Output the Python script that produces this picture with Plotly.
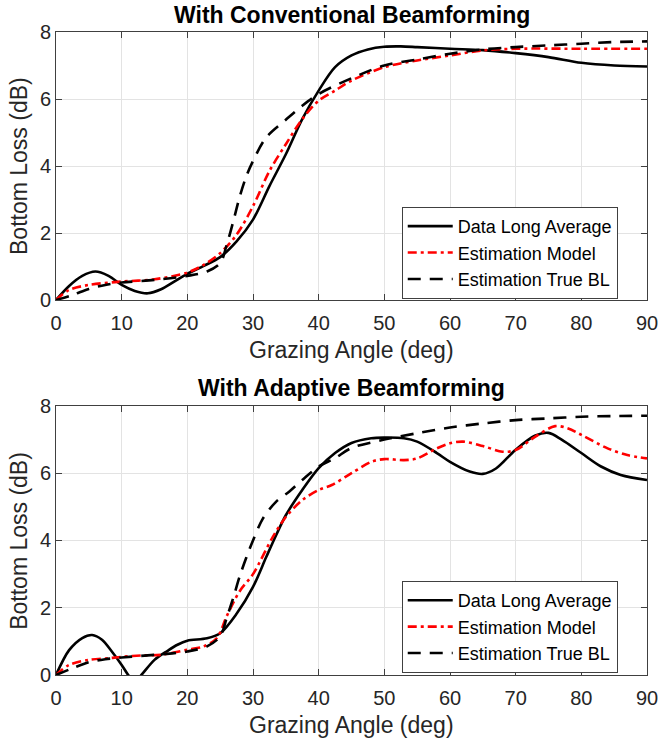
import plotly.graph_objects as go

# ---- Conventional beamforming ----
conv_data_ang = [0, 2, 4, 6, 8, 10, 12, 14, 16, 18, 20, 22.5, 25, 27.5, 30, 32.5,
                 35, 37.5, 40, 42.5, 45, 47.5, 50, 52.5, 55, 60, 65, 70, 75, 80, 85, 90]
conv_data_bl = [0, 0.42, 0.72, 0.85, 0.72, 0.45, 0.27, 0.2, 0.32, 0.55, 0.78, 1.02, 1.28,
                1.75, 2.4, 3.4, 4.35, 5.4, 6.25, 6.95, 7.3, 7.48, 7.56, 7.57, 7.55, 7.5,
                7.46, 7.37, 7.25, 7.08, 7.0, 6.97]

conv_model_ang = [0, 2, 5, 10, 15, 20, 22.5, 25, 27.5, 30, 32.5, 35, 37.5, 40, 42.5, 45,
                  50, 55, 60, 65, 70, 80, 90]
conv_model_bl = [0, 0.3, 0.45, 0.55, 0.62, 0.82, 1.05, 1.4, 1.95, 2.8, 3.85, 4.65, 5.4,
                 5.95, 6.25, 6.55, 6.95, 7.15, 7.3, 7.45, 7.5, 7.5, 7.5]

conv_true_ang = [0, 2.5, 5, 7.5, 10, 15, 20, 23, 25, 26, 27, 28, 29, 30, 32, 35, 37.5,
                 40, 45, 50, 55, 60, 65, 70, 75, 80, 85, 90]
conv_true_bl = [0, 0.15, 0.33, 0.45, 0.52, 0.6, 0.72, 0.85, 1.1, 1.65, 2.35, 3.1, 3.7,
                4.15, 4.85, 5.38, 5.8, 6.15, 6.62, 7.0, 7.18, 7.35, 7.48, 7.55, 7.6,
                7.65, 7.7, 7.72]

# ---- Adaptive beamforming ----
adap_data_ang = [0, 2, 4, 5.5, 7, 8.5, 10, 11, 12, 13, 15, 17, 18.5, 20, 23, 25, 27.5,
                 30, 32, 33.5, 35, 37.5, 40, 42.5, 45, 48, 50, 53, 55, 58, 60, 63, 65,
                 67, 70, 73, 75, 77, 80, 83, 86, 90]
adap_data_bl = [0, 0.74, 1.1, 1.19, 1.05, 0.7, 0.3, 0.0, -0.2, 0.0, 0.45, 0.72, 0.9,
                1.02, 1.09, 1.24, 1.82, 2.62, 3.5, 4.15, 4.75, 5.5, 6.15, 6.6, 6.9, 7.04,
                7.06, 7.04, 6.94, 6.6, 6.34, 6.05, 5.98, 6.14, 6.7, 7.12, 7.2, 7.0, 6.6,
                6.2, 5.95, 5.8]

adap_model_ang = [0, 2, 5, 8, 10, 13, 16, 20, 22.5, 24.5, 26, 28, 30, 33, 35, 37.5, 40,
                  42, 45, 48, 50, 53, 55, 58, 60, 62, 65, 68, 70, 73, 76, 78, 80, 84,
                  87, 90]
adap_model_bl = [0, 0.3, 0.45, 0.5, 0.54, 0.58, 0.6, 0.75, 0.85, 1.1, 1.75, 2.5, 3.0,
                 4.1, 4.7, 5.2, 5.5, 5.65, 6.0, 6.34, 6.42, 6.39, 6.44, 6.74, 6.89, 6.94,
                 6.81, 6.64, 6.69, 7.09, 7.4, 7.33, 7.14, 6.74, 6.54, 6.44]

adap_true_ang = [0, 2.5, 5, 7.5, 10, 15, 18, 20, 23, 25, 26, 27, 28, 29, 30, 31.5, 33.5,
                 35.5, 37.5, 40, 42.5, 45, 50, 55, 60, 65, 70, 75, 80, 85, 90]
adap_true_bl = [0, 0.2, 0.38, 0.47, 0.52, 0.6, 0.65, 0.7, 0.85, 1.15, 1.7, 2.3, 2.95,
                3.5, 4.0, 4.65, 5.15, 5.45, 5.8, 6.2, 6.45, 6.75, 7.0, 7.19, 7.36, 7.48,
                7.58, 7.63, 7.68, 7.7, 7.71]

names = ["Data Long Average", "Estimation Model", "Estimation True BL"]
styles = [
    dict(color="black", width=2.6, dash="solid"),
    dict(color="#ff0000", width=2.6, dash="9px,4px,3px,4px"),
    dict(color="black", width=2.6, dash="13px,9px"),
]

FONT = "Liberation Sans, Arial, Helvetica, sans-serif"
TXT = "#262626"

fig = go.Figure()

panels = [
    ("x", "y", "legend", [(conv_data_ang, conv_data_bl), (conv_model_ang, conv_model_bl),
                          (conv_true_ang, conv_true_bl)]),
    ("x2", "y2", "legend2", [(adap_data_ang, adap_data_bl), (adap_model_ang, adap_model_bl),
                             (adap_true_ang, adap_true_bl)]),
]
for xa, ya, lg, series in panels:
    for (ang, bl), name, st in zip(series, names, styles):
        fig.add_trace(go.Scatter(
            x=ang, y=bl, mode="lines", name=name, legend=lg,
            line=dict(shape="spline", smoothing=0.9, **st),
            xaxis=xa, yaxis=ya,
        ))

ax_common = dict(
    showgrid=True, gridcolor="#e3e3e3", gridwidth=1, zeroline=False,
    showline=True, linecolor="#404040", linewidth=1, mirror="ticks",
    ticks="inside", ticklen=6, tickcolor="#404040", automargin=False,
    tickfont=dict(size=20, color=TXT, family=FONT),
)
xticks = list(range(0, 91, 10))
yticks = [0, 2, 4, 6, 8]

legend_common = dict(
    x=0.585, xanchor="left", yanchor="top",
    bgcolor="white", bordercolor="#404040", borderwidth=1,
    font=dict(size=18, color="black", family=FONT),
    tracegroupgap=0, itemwidth=45,
)

fig.update_layout(
    width=659, height=741,
    margin=dict(l=56, r=12, t=32, b=66, autoexpand=False),
    paper_bgcolor="white", plot_bgcolor="white",
    font=dict(family=FONT, color=TXT),
    xaxis=dict(domain=[0, 1], anchor="y", range=[0, 90], tickvals=xticks,
               ticklabelstandoff=5, **ax_common),
    yaxis=dict(domain=[0.5832, 1], anchor="x", range=[0, 8], tickvals=yticks, **ax_common),
    xaxis2=dict(domain=[0, 1], anchor="y2", range=[0, 90], tickvals=xticks,
                ticklabelstandoff=5, **ax_common),
    yaxis2=dict(domain=[0, 0.4184], anchor="x2", range=[0, 8], tickvals=yticks, **ax_common),
    legend=dict(y=0.7232 + 0.0047, **legend_common),
    legend2=dict(y=0.1415 + 0.0047, **legend_common),
    showlegend=True,
)

# Titles and axis labels
ann = [
    dict(text="<b>With Conventional Beamforming</b>", x=0.5, y=1.0272, size=23, color="black"),
    dict(text="<b>With Adaptive Beamforming</b>", x=0.5, y=0.4463, size=23, color="black"),
    dict(text="Grazing Angle (deg)", x=0.5, y=0.5054, size=23, color=TXT),
    dict(text="Grazing Angle (deg)", x=0.5, y=-0.0778, size=23, color=TXT),
]
for a in ann:
    fig.add_annotation(text=a["text"], x=a["x"], y=a["y"], xref="paper", yref="paper",
                       xanchor="center", yanchor="middle", showarrow=False,
                       font=dict(size=a["size"], color=a["color"], family=FONT))
for yc in (0.7916, 0.2087):
    fig.add_annotation(text="Bottom Loss (dB)", x=-0.0626, y=yc, xref="paper", yref="paper",
                       xanchor="center", yanchor="middle", showarrow=False, textangle=-90,
                       font=dict(size=23, color=TXT, family=FONT))

fig.write_html("out.html")
